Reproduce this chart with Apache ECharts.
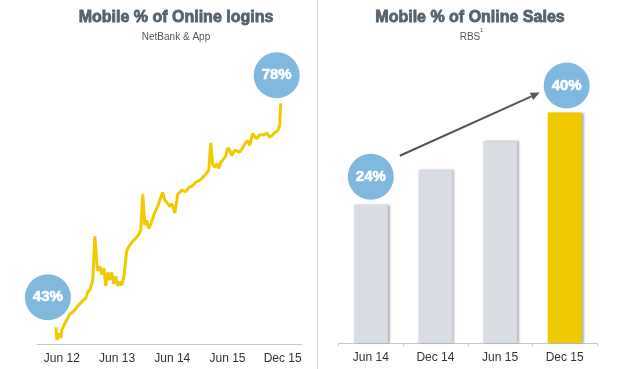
<!DOCTYPE html>
<html><head><meta charset="utf-8">
<script src="https://cdn.jsdelivr.net/npm/echarts@6/dist/echarts.min.js"></script>
<style>html,body{margin:0;padding:0;background:#fff}#c{width:636px;height:369px}</style>
</head><body><div id="c"></div>
<script>
// Left chart: Mobile % of online logins (x in label-period units, Jun 12 = 0)
const loginTickLabels = ['Jun 12','Jun 13','Jun 14','Jun 15','Dec 15'];
const loginX = [-0.109,-0.090,-0.054,-0.018,0,0.054,0.109,0.145,0.199,0.235,
0.290,0.326,0.362,0.398,0.434,0.471,0.507,0.543,0.561,0.597,
0.633,0.652,0.688,0.724,0.760,0.796,0.833,0.869,0.905,0.941,
0.977,1.014,1.050,1.086,1.122,1.158,1.176,1.231,1.285,1.339,
1.394,1.430,1.466,1.502,1.538,1.575,1.611,1.647,1.683,1.738,
1.774,1.828,1.864,1.900,1.955,1.991,2.045,2.100,2.172,2.244,
2.299,2.371,2.425,2.498,2.552,2.606,2.661,2.697,2.733,2.769,
2.805,2.842,2.878,2.914,2.968,3.005,3.041,3.077,3.131,3.167,
3.222,3.276,3.330,3.367,3.403,3.457,3.493,3.529,3.584,3.620,
3.674,3.710,3.765,3.819,3.855,3.910,3.946,3.964];
const loginY = [44.5,42.6,43.6,42.9,44.1,45.1,45.9,46.5,46.8,47.1,
47.7,47.8,48.3,48.6,48.9,49.8,50.1,51.0,51.6,58.1,
54.2,53.0,53.6,52.4,53.3,50.7,52.7,51.6,52.7,51.0,
52.1,50.7,51.3,50.8,52.0,52.1,56.0,56.8,57.4,57.8,
58.4,59.0,64.4,59.8,60.5,59.3,59.9,60.8,61.7,62.6,
63.5,64.7,63.5,63.2,62.6,63.0,61.6,64.4,65.0,64.8,
65.4,65.7,66.2,66.5,66.9,67.4,68.0,72.1,68.9,68.4,
69.0,68.3,69.2,69.5,70.1,71.3,71.0,70.2,71.0,71.0,
70.7,71.4,72.1,72.4,71.7,73.5,73.0,72.7,73.3,73.5,
73.3,73.6,72.9,73.3,73.6,73.9,74.7,78.0];
const loginCallouts = ['43%','78%'];

// Right chart: Mobile % of online sales
const salesCategories = ['Jun 14','Dec 14','Jun 15','Dec 15'];
const salesValues = [24, 30, 35, 40];
const salesCallouts = ['24%','40%'];

const YELLOW = '#F0C900';
const BLUE = '#7FB9DF';
const TITLE = '#56626D';
const FONT = 'Liberation Sans, Arial, sans-serif';

const chart = echarts.init(document.getElementById('c'), null, {renderer:'canvas'});
const loginData = loginX.map((x,i)=>[x, loginY[i]]);
const last = loginData.length-1;

const circleLabel = {show:true, position:'inside', color:'#fff', fontSize:15, fontWeight:'bold', fontFamily:FONT,
  textBorderColor:'#fff', textBorderWidth:0.6};
const titleStyle = {color:TITLE, fontSize:16, fontWeight:'bold', fontFamily:FONT, textBorderColor:TITLE, textBorderWidth:0.8};
const subStyle = {color:'#555', fontSize:10, fontFamily:FONT};

chart.setOption({
  animation:false,
  title:[
    {text:'Mobile % of Online logins', subtext:'NetBank & App', left:171, top:5, textAlign:'center', itemGap:5,
     textStyle:titleStyle, subtextStyle:subStyle},
    {text:'Mobile % of Online Sales', subtext:'RBS', left:465, top:5, textAlign:'center', itemGap:5,
     textStyle:titleStyle, subtextStyle:subStyle}
  ],
  grid:[
    {left:37, width:265, top:100, bottom:25},
    {left:338.5, width:258.5, top:55, bottom:26}
  ],
  xAxis:[
    {type:'value', gridIndex:0, min:-0.45, max:4.35,
     axisLine:{show:true, lineStyle:{color:'#c8c8c8', width:1}},
     axisTick:{show:false}, splitLine:{show:false},
     axisLabel:{customValues:[0,1,2,3,4], formatter:v=>loginTickLabels[Math.round(v)], color:'#333', fontSize:12, margin:9, fontFamily:FONT}},
    {type:'category', gridIndex:1, data:salesCategories,
     axisLine:{lineStyle:{color:'#c8c8c8'}},
     axisTick:{show:true, length:3, lineStyle:{color:'#c8c8c8'}},
     axisLabel:{color:'#333', fontSize:12, margin:9, fontFamily:FONT}}
  ],
  yAxis:[
    {type:'value', gridIndex:0, min:42, max:78.5, show:false},
    {type:'value', gridIndex:1, min:0, max:50, show:false}
  ],
  series:[
    {type:'line', xAxisIndex:0, yAxisIndex:0, data:loginData, showSymbol:false, symbol:'none',
     lineStyle:{color:YELLOW, width:3}, z:3,
     markPoint:{symbol:'circle', symbolSize:46, silent:true,
       itemStyle:{color:BLUE}, label:circleLabel,
       data:[
         {coord:loginData[0], value:loginCallouts[0], symbolOffset:[-8,-30]},
         {coord:loginData[last], value:loginCallouts[1], symbolOffset:[-4,-28]}
       ]}},
    {type:'bar', xAxisIndex:1, yAxisIndex:1, barWidth:34,
     data:salesValues.map((v,i)=>({value:v, itemStyle:{color: i===salesValues.length-1 ? YELLOW : '#D7DDE3'}})),
     itemStyle:{shadowColor:'rgba(0,0,0,0.3)', shadowOffsetX:2, shadowOffsetY:0, shadowBlur:2},
     markPoint:{symbol:'circle', symbolSize:46, silent:true,
       itemStyle:{color:BLUE, shadowBlur:0, shadowOffsetX:0, shadowColor:'transparent'}, label:circleLabel,
       data:[
         {coord:[salesCategories[0], salesValues[0]], value:salesCallouts[0], symbolOffset:[0,-28]},
         {coord:[salesCategories[3], salesValues[3]], value:salesCallouts[1], symbolOffset:[2,-27]}
       ]}}
  ]
});

const p1 = chart.convertToPixel({seriesIndex:1}, [salesCategories[0], salesValues[0]]);
const p2 = chart.convertToPixel({seriesIndex:1}, [salesCategories[3], salesValues[3]]);
const sx = p1[0]+29, sy = p1[1]-49, ex = p2[0]-25, ey = p2[1]-20;
const ang = Math.atan2(ey-sy, ex-sx), hl = 9, hw = 4;
const bx = ex - hl*Math.cos(ang), by = ey - hl*Math.sin(ang);
chart.setOption({graphic:[
  {type:'line', shape:{x1:0,y1:0,x2:0,y2:369}, x:317.5, style:{stroke:'#d9d9d9', lineWidth:1}},
  {type:'line', shape:{x1:sx,y1:sy,x2:bx,y2:by}, style:{stroke:'#4d5660', lineWidth:2}},
  {type:'polygon', shape:{points:[[ex,ey],[bx - hw*Math.sin(ang), by + hw*Math.cos(ang)],[bx + hw*Math.sin(ang), by - hw*Math.cos(ang)]]}, style:{fill:'#4d5660'}},
  {type:'text', x:480, y:27, style:{text:'1', fontSize:6, fill:'#555', fontFamily:FONT}}
]});
</script></body></html>
